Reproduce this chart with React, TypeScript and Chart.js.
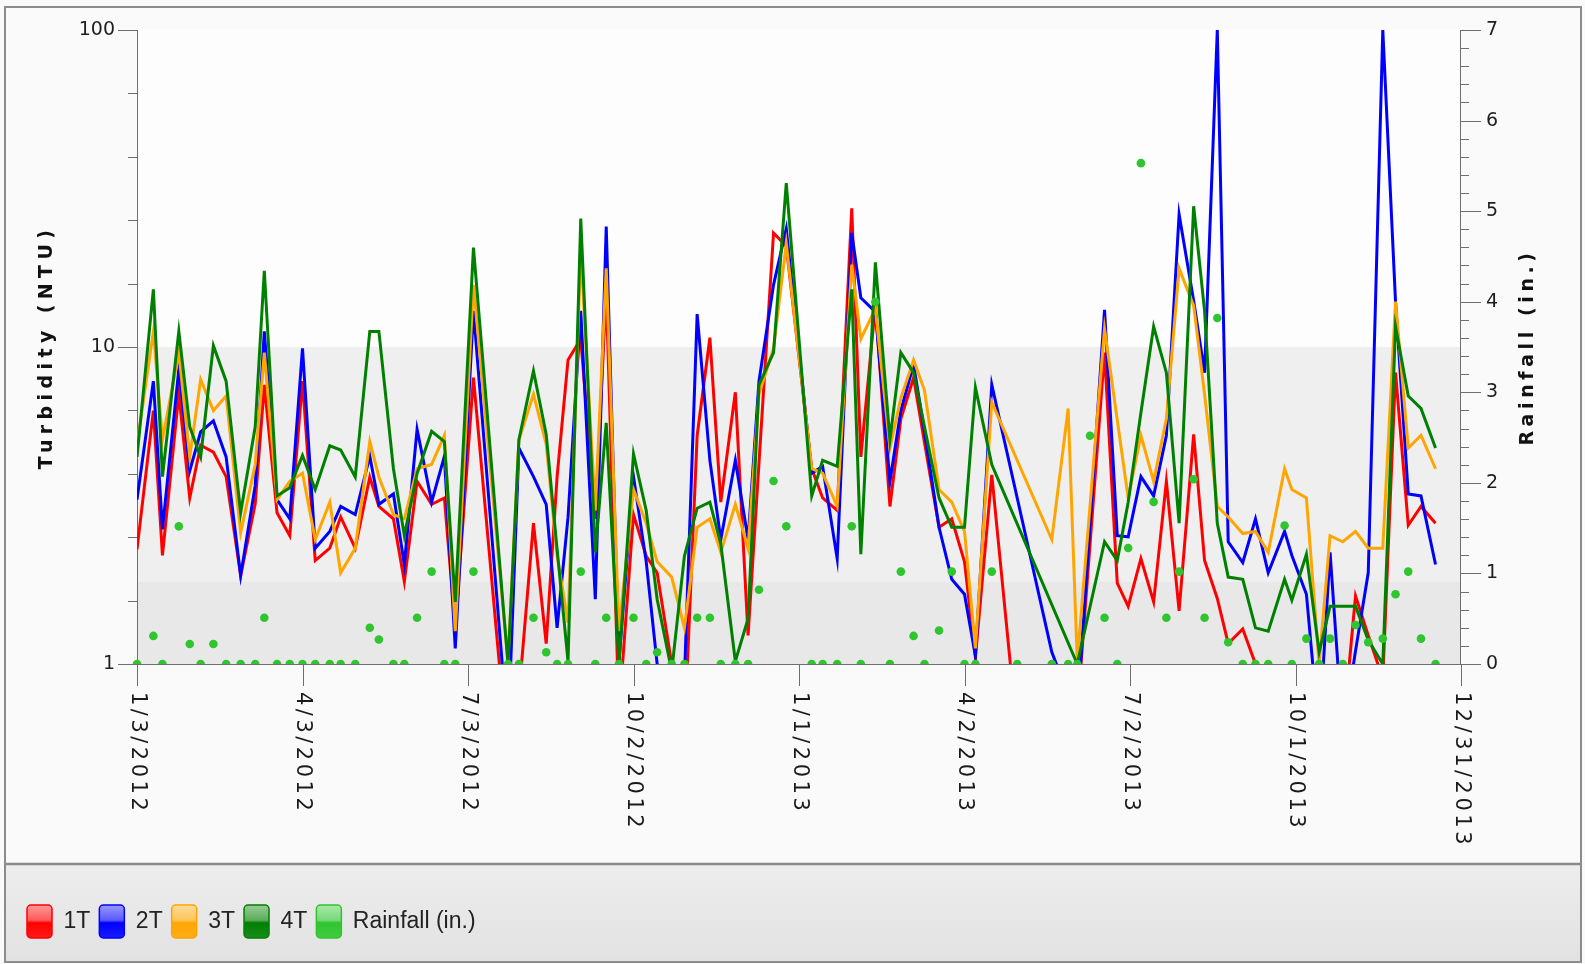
import React, { useEffect, useRef } from "react";
import { Chart, registerables } from "chart.js";

Chart.register(...registerables);

// ---------------- DATA ----------------
const sampleDates = [
  "2012-01-03","2012-01-12","2012-01-17","2012-01-26","2012-02-01","2012-02-07","2012-02-14","2012-02-21","2012-02-29","2012-03-08",
  "2012-03-13","2012-03-20","2012-03-27","2012-04-03","2012-04-10","2012-04-18","2012-04-24","2012-05-02","2012-05-10","2012-05-15",
  "2012-05-23","2012-05-29","2012-06-05","2012-06-13","2012-06-20","2012-06-26","2012-07-06","2012-07-25","2012-07-31","2012-08-08",
  "2012-08-15","2012-08-21","2012-08-27","2012-09-03","2012-09-11","2012-09-17","2012-09-24","2012-10-02","2012-10-09","2012-10-15",
  "2012-10-23","2012-10-30","2012-11-06","2012-11-13","2012-11-19","2012-11-27","2012-12-04","2012-12-10","2012-12-18","2012-12-25",
  "2013-01-08","2013-01-14","2013-01-22","2013-01-30","2013-02-04","2013-02-12","2013-02-20","2013-02-26","2013-03-05","2013-03-11",
  "2013-03-19","2013-03-26","2013-04-02","2013-04-08","2013-04-17","2013-05-01","2013-05-20","2013-05-29","2013-06-03","2013-06-10",
  "2013-06-18","2013-06-25","2013-07-01","2013-07-08","2013-07-15","2013-07-22","2013-07-29","2013-08-06","2013-08-12","2013-08-19",
  "2013-08-25","2013-09-02","2013-09-09","2013-09-16","2013-09-25","2013-09-29","2013-10-07","2013-10-14","2013-10-20","2013-10-27",
  "2013-11-03","2013-11-10","2013-11-18","2013-11-25","2013-12-02","2013-12-09","2013-12-17",
];

const turbidity1T = [
  2.3, 6.3, 2.2, 7.1, 3.34, 4.9, 4.66, 3.9, 1.9, 3.2,
  7.6, 3.0, 2.54, 7.8, 2.12, 2.32, 2.91, 2.32, 3.89, 3.14,
  2.87, 1.82, 3.77, 3.19, 3.34, 1.3, 8.0, 0.5, 0.8, 2.78,
  1.16, 3.9, 9.1, 10.6, 2.87, 15, 0.7, 2.96, 2.19, 1.94,
  1.0, 0.6, 5.26, 10.7, 3.24, 7.2, 1.23, null, 22.9, 20.8,
  4.13, 3.34, 3.05, 27.4, 4.5, 13.5, 3.14, 5.94, 8.0, 5.0,
  2.7, 2.87, 2.1, 1.05, 3.95, 0.6, null, null, 0.7, null,
  9.6, 1.8, 1.52, 2.15, 1.57, 3.77, 1.47, 5.3, 2.12, 1.61,
  1.16, 1.29, 1.0, 0.7, 0.6, 0.6, 0.6, 0.6, 0.6, 0.6,
  1.64, 1.23, 0.9, 8.3, 2.74, 3.14, 2.78,
];

const turbidity2T = [
  3.3, 7.8, 2.66, 8.5, 4.07, 5.4, 5.85, 4.5, 1.9, 3.66,
  11.2, 3.3, 2.87, 9.9, 2.32, 2.62, 3.14, 2.96, 4.52, 3.19,
  3.44, 2.06, 5.5, 3.24, 4.52, 1.12, 13, 0.6, 4.8, 3.9,
  3.19, 1.3, 2.9, 13, 1.6, 24, 1.02, 3.9, 2.1, 1.0,
  0.7, 0.9, 12.7, 4.39, 2.47, 4.39, 2.47, 7.8, 15.7, 23.6,
  4.0, 4.2, 2.15, 22.9, 14.3, 12.9, 3.77, 6.3, 8.8, 5.4,
  2.7, 1.85, 1.66, 1.06, 7.6, null, 1.09, 0.8, 0.7, null,
  13.1, 2.54, 2.52, 3.9, 3.39, 5.26, 26.2, 14, 8.3, 100,
  2.43, 2.09, 2.87, 1.94, 2.62, 2.2, 1.66, 0.6, 2.25, 0.6,
  1.1, 1.94, 100, 13.9, 3.44, 3.39, 2.06,
];

const turbidity3T = [
  4.9, 11.2, 5.1, 9.6, 4.5, 7.9, 6.3, 7.0, 2.6, 4.26,
  9.6, 3.3, 3.77, 4.0, 2.47, 3.24, 1.94, 2.32, 5.03, 3.89,
  2.96, 2.87, 4.13, 4.26, 5.26, 1.27, 15.7, 1.02, 5.1, 7.1,
  4.94, 2.2, 1.35, 20, 3.05, 17.7, 1.27, 3.55, 2.78, 2.1,
  1.88, 1.3, 2.7, 2.87, 2.25, 3.19, 2.32, 7.1, 9.9, 21.2,
  4.13, 4.0, 3.14, 18.2, 10.6, 13.2, 4.8, 6.9, 9.1, 7.3,
  3.55, 3.24, 2.62, 1.12, 6.7, null, 2.47, 6.4, 1.02, null,
  11.4, null, 3.34, 5.26, 3.77, 5.94, 17.7, 13.5, 7.1, 3.14,
  2.91, 2.58, 2.62, 2.25, 4.13, 3.55, 3.34, 1.0, 2.54, 2.43,
  2.62, 2.32, 2.32, 13.9, 4.8, 5.26, 4.13,
];

const turbidity4T = [
  4.5, 15.2, 3.9, 11.2, 5.6, 4.5, 10.1, 7.8, 3.0, 5.6,
  17.4, 3.39, 3.6, 4.55, 3.55, 4.88, 4.73, 3.89, 11.2, 11.2,
  4.13, 2.54, 3.99, 5.42, 5.03, 1.57, 20.6, 1.0, 5.1, 8.4,
  5.3, 2.3, 1.02, 25.4, 2.25, 5.76, 1.0, 4.6, 3.05, 1.6,
  0.95, 2.19, 3.1, 3.24, 2.39, 1.02, 1.39, 7.6, 9.6, 32.9,
  3.39, 4.39, 4.2, 15.2, 2.22, 18.5, 5.1, 9.6, 8.3, 5.6,
  3.34, 2.7, 2.7, 7.45, 4.26, null, null, null, 1.0, null,
  2.43, 2.12, 3.24, 6.2, 11.6, 8.3, 2.78, 27.8, 13, 2.78,
  1.88, 1.85, 1.3, 1.27, 1.85, 1.59, 2.22, 1.09, 1.52, 1.52,
  1.52, 1.19, 1.0, 11.6, 7.0, 6.4, 4.8,
];

const rainfallIn = [
  0, 0.31, 0, 1.52, 0.22, 0, 0.22, 0, 0, 0,
  0.51, 0, 0, 0, 0, 0, 0, 0, 0.4, 0.27,
  0, 0, 0.51, 1.02, 0, 0, 1.02, 0, 0, 0.51,
  0.13, 0, 0, 1.02, 0, 0.51, 0, 0.51, 0, 0.13,
  0, 0, 0.51, 0.51, 0, 0, 0, 0.82, 2.02, 1.52,
  0, 0, 0, 1.52, 0, 4.0, 0, 1.02, 0.31, 0,
  0.37, 1.02, 0, 0, 1.02, 0, 0, 0, 0, 2.52,
  0.51, 0, 1.28, 5.53, 1.79, 0.51, 1.02, 2.04, 0.51, 3.82,
  0.24, 0, 0, 0, 1.53, 0, 0.28, 0, 0.28, 0,
  0.43, 0.24, 0.28, 0.77, 1.02, 0.28, 0,
];

const axisTickDates = [
  "2012-01-03","2012-04-03","2012-07-03","2012-10-02","2013-01-01",
  "2013-04-02","2013-07-02","2013-10-01","2013-12-31",
];
const turbidityTickLabels = [1, 10, 100];
const rainfallTickLabels = [0, 1, 2, 3, 4, 5, 6, 7];

const seriesNames = ["1T", "2T", "3T", "4T", "Rainfall (in.)"];
const seriesColors = ["#ff0000", "#0000ff", "#ffa500", "#008000", "#2ec52e"];
const leftTitle = "Turbidity (NTU)";
const rightTitle = "Rainfall (in.)";

// ---------------- LAYOUT / STYLE ----------------
const W = 1585;
const H = 964;
const PAD = { left: 18, right: 16, top: 30, bottom: 16 };
const LEFT_AXIS_W = 119;
const RIGHT_AXIS_W = 108;
const X_AXIS_H = 232;
const LEGEND_PADDING = 9;
const LEGEND_BOX_TOP = 905;
const LEGEND_BOX_H = 33;

const START = Date.UTC(2012, 0, 3);
const DAY = 86400000;
const dayOf = (s: string) => {
  const [y, m, d] = s.split("-").map(Number);
  return Math.round((Date.UTC(y, m - 1, d) - START) / DAY);
};
const fmtDay = (day: number) => {
  const dt = new Date(START + day * DAY);
  return `${dt.getUTCMonth() + 1}/${dt.getUTCDate()}/${dt.getUTCFullYear()}`;
};

const tint = (hex: string, amt: number) => {
  const n = parseInt(hex.slice(1), 16);
  const r = (n >> 16) & 255, g = (n >> 8) & 255, b = n & 255;
  const m = (c: number) => Math.round(c + (255 - c) * amt);
  return `rgb(${m(r)},${m(g)},${m(b)})`;
};

const legendFill = (ctx: CanvasRenderingContext2D, color: string) => {
  const g = ctx.createLinearGradient(0, LEGEND_BOX_TOP, 0, LEGEND_BOX_TOP + LEGEND_BOX_H);
  g.addColorStop(0, tint(color, 0.6));
  g.addColorStop(0.46, tint(color, 0.35));
  g.addColorStop(0.54, color);
  g.addColorStop(1, tint(color, 0.1));
  return g;
};

const decorPlugin = {
  id: "decor",
  beforeDraw(chart: any) {
    const { ctx, chartArea: a } = chart;
    const y = chart.scales.y;
    ctx.save();
    ctx.fillStyle = "#fafafa";
    ctx.fillRect(0, 0, W, H);
    const g = ctx.createLinearGradient(0, 864, 0, 962);
    g.addColorStop(0, "#ededed");
    g.addColorStop(1, "#e2e2e2");
    ctx.fillStyle = g;
    ctx.fillRect(5, 864, 1577, 98);
    ctx.fillStyle = "#fdfdfd";
    ctx.fillRect(a.left, a.top, a.width, a.height);
    const y10 = y.getPixelForValue(10);
    const yMid = y.getPixelForValue(1.82);
    const y1 = y.getPixelForValue(1);
    ctx.fillStyle = "#efefef";
    ctx.fillRect(a.left, y10, a.width, yMid - y10);
    ctx.fillStyle = "#e8e8e8";
    ctx.fillRect(a.left, yMid, a.width, y1 - yMid);
    ctx.restore();
  },
  beforeDatasetsDraw(chart: any) {
    const { ctx, chartArea: a } = chart;
    const { x, y, y1 } = chart.scales;
    ctx.save();
    ctx.strokeStyle = "#6e6e6e";
    ctx.lineWidth = 1;
    ctx.beginPath();
    ctx.moveTo(a.left + 0.5, a.top);
    ctx.lineTo(a.left + 0.5, a.bottom);
    ctx.moveTo(a.right - 0.5, a.top);
    ctx.lineTo(a.right - 0.5, a.bottom);
    ctx.moveTo(a.left, a.bottom + 0.5);
    ctx.lineTo(a.right, a.bottom + 0.5);
    for (const t of y.ticks) {
      const py = Math.round(y.getPixelForValue(t.value)) + 0.5;
      const len = turbidityTickLabels.includes(t.value) ? 19 : 9;
      ctx.moveTo(a.left - len, py);
      ctx.lineTo(a.left, py);
    }
    for (const t of y1.ticks) {
      const py = Math.round(y1.getPixelForValue(t.value)) + 0.5;
      const major = Math.abs(t.value - Math.round(t.value)) < 1e-6;
      const len = major ? 20 : 8;
      ctx.moveTo(a.right, py);
      ctx.lineTo(a.right + len, py);
    }
    for (const t of x.ticks) {
      const px = Math.round(x.getPixelForValue(t.value)) + 0.5;
      ctx.moveTo(px, a.bottom);
      ctx.lineTo(px, a.bottom + 22);
    }
    ctx.stroke();
    ctx.restore();
  },
  afterDraw(chart: any) {
    const { ctx, chartArea: a } = chart;
    const x = chart.scales.x;
    ctx.save();
    ctx.fillStyle = "#1a1a1a";
    ctx.font = '21px "DejaVu Sans"';
    (ctx as any).letterSpacing = "3.5px";
    ctx.textAlign = "left";
    ctx.textBaseline = "middle";
    for (const t of x.ticks) {
      const px = x.getPixelForValue(t.value);
      ctx.save();
      ctx.translate(px, a.bottom + 28);
      ctx.rotate(Math.PI / 2);
      ctx.fillText(fmtDay(t.value), 0, 0);
      ctx.restore();
    }
    const midY = (a.top + a.bottom) / 2;
    ctx.font = 'bold 19px "DejaVu Sans"';
    ctx.textAlign = "center";
    ctx.fillStyle = "#111";
    ctx.save();
    (ctx as any).letterSpacing = "5.4px";
    ctx.translate(47, midY);
    ctx.rotate(-Math.PI / 2);
    ctx.fillText(leftTitle, 0, 0);
    ctx.restore();
    ctx.save();
    (ctx as any).letterSpacing = "4.6px";
    ctx.translate(1528, midY);
    ctx.rotate(-Math.PI / 2);
    ctx.fillText(rightTitle, 0, 0);
    ctx.restore();
    (ctx as any).letterSpacing = "0px";
    // frame and separator
    ctx.strokeStyle = "#8c8c8c";
    ctx.lineWidth = 2;
    ctx.strokeRect(5, 7, 1576, 955);
    ctx.beginPath();
    ctx.lineWidth = 2.5;
    ctx.strokeStyle = "#8a8a8a";
    ctx.moveTo(5, 864);
    ctx.lineTo(1581, 864);
    ctx.stroke();
    ctx.restore();
  },
};

export default function App() {
  const ref = useRef<HTMLCanvasElement>(null);

  useEffect(() => {
    const canvas = ref.current!;
    const days = sampleDates.map(dayOf);
    const tickDays = axisTickDates.map(dayOf);
    const mk = (vals: (number | null)[]) => vals.map((v, i) => ({ x: days[i], y: v }));
    const lineSeries = [turbidity1T, turbidity2T, turbidity3T, turbidity4T];

    const datasets: any[] = lineSeries.map((vals, i) => ({
      label: seriesNames[i],
      data: mk(vals),
      yAxisID: "y",
      borderColor: seriesColors[i],
      backgroundColor: seriesColors[i],
      borderWidth: 3,
      pointRadius: 0,
      pointHoverRadius: 0,
      tension: 0,
      spanGaps: true,
      fill: false,
      order: 4 - i,
    }));
    datasets.push({
      label: seriesNames[4],
      data: mk(rainfallIn),
      yAxisID: "y1",
      showLine: false,
      pointRadius: 4.3,
      pointHoverRadius: 4.3,
      pointBackgroundColor: seriesColors[4],
      pointBorderWidth: 0,
      borderColor: seriesColors[4],
      backgroundColor: seriesColors[4],
      order: 0,
      clip: { left: 8, right: 8, top: 8, bottom: 0 },
    });

    const chart = new Chart(canvas, {
      type: "line",
      data: { datasets },
      options: {
        responsive: false,
        animation: false,
        events: [],
        layout: { padding: PAD },
        scales: {
          x: {
            type: "linear",
            min: tickDays[0],
            max: tickDays[tickDays.length - 1],
            ticks: { display: false },
            grid: { display: false, drawTicks: false },
            border: { display: false },
            afterBuildTicks: (s: any) => {
              s.ticks = tickDays.map((v) => ({ value: v }));
            },
            afterFit: (s: any) => {
              s.height = X_AXIS_H;
            },
          },
          y: {
            type: "logarithmic",
            position: "left",
            min: 1,
            max: 100,
            grid: { display: false, drawTicks: true, tickLength: 19 },
            border: { display: false },
            ticks: {
              autoSkip: false,
              padding: 3,
              color: "#1e1e1e",
              font: { family: '"DejaVu Sans"', size: 19 },
              callback: (v: any) => (turbidityTickLabels.includes(v) ? String(v) : ""),
            },
            afterBuildTicks: (s: any) => {
              s.ticks = Array.from({ length: 11 }, (_, k) => ({ value: Math.pow(10, k / 5) }));
            },
            afterFit: (s: any) => {
              s.width = LEFT_AXIS_W;
            },
          },
          y1: {
            type: "linear",
            position: "right",
            min: 0,
            max: 7,
            grid: { display: false, drawTicks: true, tickLength: 20 },
            border: { display: false },
            ticks: {
              autoSkip: false,
              padding: 5,
              color: "#1e1e1e",
              font: { family: '"DejaVu Sans"', size: 19 },
              callback: (v: any) => {
                const r = Math.round(v);
                return Math.abs(v - r) < 1e-6 && rainfallTickLabels.includes(r) ? String(r) : "";
              },
            },
            afterBuildTicks: (s: any) => {
              s.ticks = Array.from({ length: 36 }, (_, k) => ({ value: k / 5 }));
            },
            afterFit: (s: any) => {
              s.width = RIGHT_AXIS_W;
            },
          },
        },
        plugins: {
          tooltip: { enabled: false },
          legend: {
            display: true,
            position: "bottom",
            align: "start",
            labels: {
              boxWidth: 25,
              boxHeight: LEGEND_BOX_H,
              padding: LEGEND_PADDING,
              color: "#222",
              useBorderRadius: true,
              borderRadius: 4,
              font: { family: "'Liberation Sans Narrow', 'Liberation Sans', Arial, sans-serif", size: 23 },
              generateLabels: (c: any) =>
                c.data.datasets.map((ds: any, i: number) => ({
                  text: ds.label,
                  fillStyle: legendFill(c.ctx, seriesColors[i]),
                  strokeStyle: seriesColors[i],
                  lineWidth: 1.5,
                  hidden: false,
                  datasetIndex: i,
                  borderRadius: 4,
                  fontColor: "#222",
                })),
            },
          },
        },
      } as any,
      plugins: [decorPlugin],
    });
    return () => chart.destroy();
  }, []);

  return (
    <div style={{ position: "fixed", left: 0, top: 0, width: W, height: H, background: "#fafafa" }}>
      <canvas ref={ref} width={W} height={H} style={{ display: "block", width: W, height: H }} />
    </div>
  );
}
